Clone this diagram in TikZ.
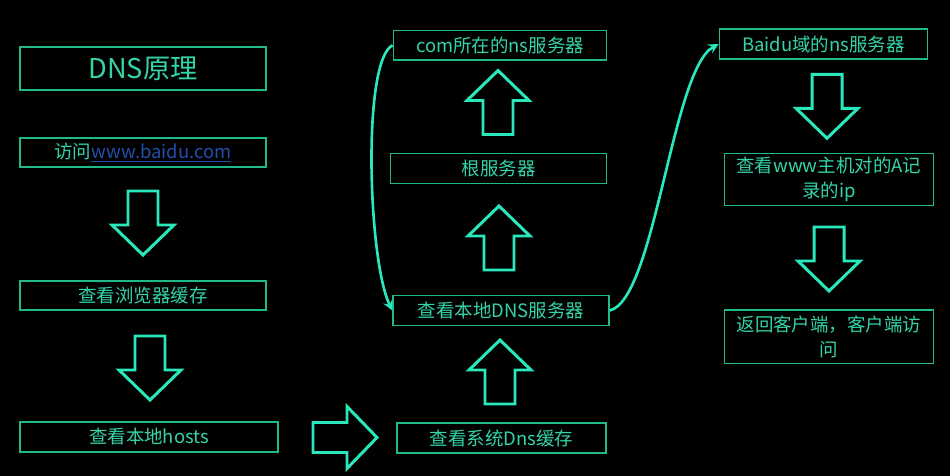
\documentclass[tikz,border=0pt]{standalone}
\usepackage{fontspec}
\setmainfont{Noto Sans CJK SC}
\usepackage{tikz}
\usetikzlibrary{arrows}
\definecolor{boxline}{RGB}{32,185,140}
\definecolor{boxtext}{RGB}{52,212,168}
\definecolor{arrowline}{RGB}{40,232,188}
\definecolor{linkblue}{RGB}{35,78,170}
\tikzstyle{box} = [rectangle, draw=boxline, line width=0.8pt, text=boxtext, align=center, inner sep=0pt, font=\fontsize{10.5}{14}\selectfont]
\tikzstyle{flow} = [line width=1.7pt, draw=arrowline, line join=miter]
\tikzstyle{arrow} = [line width=1.5pt, draw=arrowline, ->, >=stealth]
\tikzset{bigarrow/.pic={\draw[flow] (-15,-32) -- (15,-32) -- (15,2) -- (31,2) -- (0,32) -- (-31,2) -- (-15,2) -- cycle;}}

\begin{document}
\begin{tikzpicture}[x=0.02cm, y=-0.02cm]
    \fill[black] (0,0) rectangle (950,476);

    % left column
    \node (title) [box, minimum width=4.92cm, minimum height=0.86cm, font=\fontsize{15.5}{18}\selectfont] at (143,68.5) {DNS原理};
    \node (visit) [box, minimum width=4.92cm, minimum height=0.58cm] at (143,152.5) {访问{\color{linkblue}\underline{www.baidu.com}}};
    \node (browser) [box, minimum width=4.92cm, minimum height=0.58cm] at (143,295.5) {查看浏览器缓存};
    \node (hosts) [box, minimum width=5.16cm, minimum height=0.6cm] at (149,437) {查看本地hosts};

    % middle column
    \node (syscache) [box, minimum width=4.18cm, minimum height=0.6cm] at (501.5,438) {查看系统Dns缓存};
    \node (localdns) [box, minimum width=4.32cm, minimum height=0.59cm] at (501,310.5) {查看本地DNS服务器};
    \node (root) [box, minimum width=4.32cm, minimum height=0.6cm] at (498.7,168.3) {根服务器};
    \node (comns) [box, minimum width=4.27cm, minimum height=0.59cm] at (500,45.3) {com所在的ns服务器};

    % right column
    \node (baidns) [box, minimum width=4.16cm, minimum height=0.6cm] at (823.3,44) {Baidu域的ns服务器};
    \node (arecord) [box, minimum width=4.18cm, minimum height=1.05cm] at (828.8,179.5) {查看www主机对的A记\\录的ip};
    \node (back) [box, minimum width=4.18cm, minimum height=1.07cm] at (828.8,336.7) {返回客户端，客户端访\\问};

    % block arrows
    \pic at (143,223) {bigarrow};
    \pic at (150,368) {bigarrow};
    \pic[rotate=90] at (345,437.5) {bigarrow};
    \pic[rotate=180] at (500,372) {bigarrow};
    \pic[rotate=180] at (499,238) {bigarrow};
    \pic[rotate=180] at (498,102.5) {bigarrow};
    \pic at (827,106.3) {bigarrow};
    \pic at (829,259) {bigarrow};

    \draw [arrow] (comns.west) .. controls (362,60) and (368,260) .. (localdns.west);
    \draw [arrow] (localdns.east) .. controls (655,300) and (672,70) .. (baidns.west);
\end{tikzpicture}
\end{document}
